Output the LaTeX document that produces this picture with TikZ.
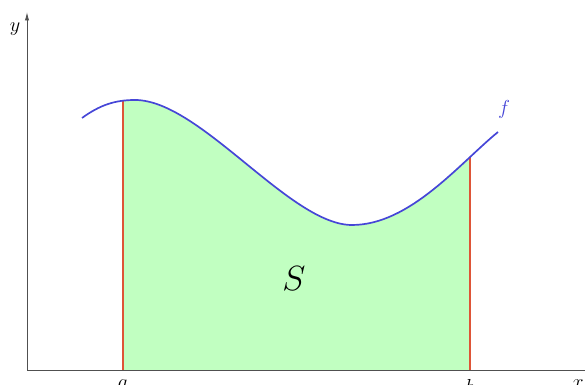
\documentclass[tikz,border=0pt]{standalone}
\usepackage{amsmath}
\usepackage{amssymb}
\usepackage{tikz}
\usetikzlibrary{arrows.meta}
\definecolor{areagreen}{RGB}{193,255,193}
\definecolor{curveblue}{RGB}{70,70,215}
\definecolor{boundred}{RGB}{222,85,55}
\definecolor{axisgray}{RGB}{80,80,80}

\begin{document}
\begin{tikzpicture}[x=0.025cm, y=0.025cm, font=\fontsize{13.5}{16}\selectfont]
  \useasboundingbox (0,0) rectangle (585,385);
  \coordinate (O) at (27,15);
  \coordinate (Y) at (27,373);
  \coordinate (X) at (610,15);
  \coordinate (A) at (123,15);
  \coordinate (B) at (470,15);
  \coordinate (FA) at (123,284.4);
  \coordinate (FB) at (470,228.4);
  \coordinate (P0) at (82,267);
  \coordinate (P1) at (135,285);
  \coordinate (P2) at (352,160);
  \coordinate (P3) at (498,253);
  \begin{scope}
    \clip (A) rectangle (470,300);
    \fill[areagreen] (82,15) -- (P0) .. controls (100,280) and (115,285) .. (P1)
      .. controls (200,285) and (290,160) .. (P2)
      .. controls (410,160) and (460,222) .. (P3) -- (498,15) -- cycle;
  \end{scope}
  \draw[-{Latex[length=6pt,width=3pt]},axisgray,line width=0.6pt] (O)--(Y);
  \draw[-{Latex[length=6pt,width=3pt]},axisgray,line width=0.6pt] (O)--(X);
  \draw[boundred,line width=1.1pt] (A)--(FA);
  \draw[boundred,line width=1.1pt] (B)--(FB);
  \draw[curveblue,line width=1.2pt] (P0) .. controls (100,280) and (115,285) .. (P1)
    .. controls (200,285) and (290,160) .. (P2)
    .. controls (410,160) and (460,222) .. (P3);
  \node[anchor=north,inner sep=0pt] (ylab) at (15,362) {$y$};
  \node[anchor=north,inner sep=0pt] (alab) at (123,5) {$a$};
  \node[anchor=north,inner sep=0pt] (blab) at (470,6) {$b$};
  \node[anchor=north,inner sep=0pt] (xlab) at (578,5) {$x$};
  \node[anchor=north,inner sep=0pt,curveblue] (flab) at (504,285) {$f$};
  \node[inner sep=0pt,font=\fontsize{28}{32}\selectfont] (Slab) at (294,106) {$S$};
\end{tikzpicture}
\end{document}
